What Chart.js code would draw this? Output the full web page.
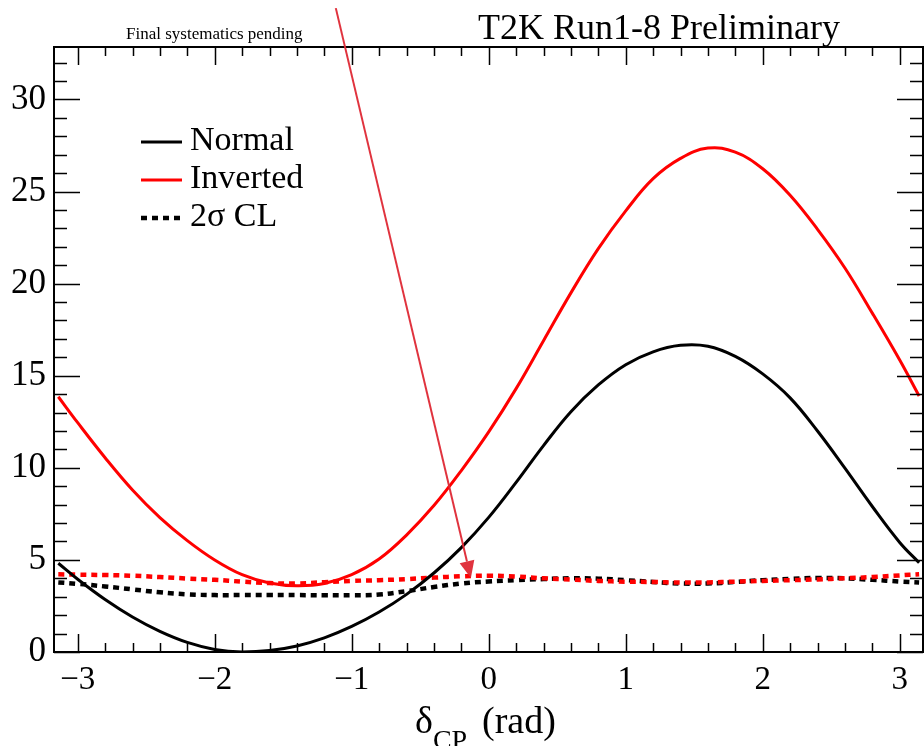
<!DOCTYPE html>
<html>
<head>
<meta charset="utf-8">
<script src="https://cdn.jsdelivr.net/npm/chart.js@4.4.1/dist/chart.umd.min.js"></script>
<style>
  html, body { margin: 0; padding: 0; background: #fff; }
  #wrap { width: 924px; height: 746px; }
</style>
</head>
<body>
<div id="wrap"><canvas id="chi2Chart" width="924" height="746"></canvas></div>
<script>
// delta_CP grid (rad)
const deltaCP = [-3.1416, -3.0, -2.8, -2.6, -2.4, -2.2, -2.0, -1.8, -1.6, -1.4, -1.2, -1.0, -0.8, -0.6, -0.4, -0.2,
                 0.0, 0.2, 0.4, 0.6, 0.8, 1.0, 1.2, 1.4, 1.6, 1.8, 2.0, 2.2, 2.4, 2.6, 2.8, 3.0, 3.1416];

// delta chi2, normal ordering
const normalChi2 = [4.82, 3.95, 2.85, 1.9, 1.12, 0.52, 0.14, 0.0, 0.08, 0.33, 0.77, 1.39, 2.17, 3.13, 4.29, 5.67,
                    7.31, 9.21, 11.21, 13.05, 14.5, 15.6, 16.3, 16.65, 16.6, 16.05, 15.1, 13.8, 12.0, 9.98, 7.9, 5.95, 4.85];

// delta chi2, inverted ordering
const invertedChi2 = [13.86, 12.45, 10.55, 8.8, 7.3, 6.05, 5.0, 4.2, 3.75, 3.6, 3.72, 4.2, 5.05, 6.35, 7.95, 9.85,
                      11.95, 14.3, 16.9, 19.5, 21.9, 23.95, 25.7, 26.8, 27.36, 27.14, 26.24, 24.8, 22.95, 20.85, 18.4, 15.85, 13.9];

// 2 sigma critical values
const normalCL = [3.78, 3.7, 3.56, 3.4, 3.24, 3.13, 3.09, 3.09, 3.09, 3.09, 3.08, 3.08, 3.12, 3.3, 3.53, 3.72,
                  3.83, 3.9, 3.96, 4.0, 3.98, 3.9, 3.8, 3.72, 3.72, 3.8, 3.9, 3.97, 4.02, 4.0, 3.92, 3.83, 3.78];
const invertedCL = [4.22, 4.2, 4.18, 4.14, 4.07, 3.99, 3.92, 3.82, 3.74, 3.72, 3.79, 3.86, 3.9, 3.96, 4.04, 4.11,
                    4.14, 4.1, 4.0, 3.93, 3.86, 3.82, 3.8, 3.77, 3.78, 3.82, 3.86, 3.9, 3.94, 4.0, 4.07, 4.16, 4.22];

const xTickValues = [-3, -2, -1, 0, 1, 2, 3];
const yTickValues = [0, 5, 10, 15, 20, 25, 30];

const serif = 'Liberation Serif';

function points(values) {
    return deltaCP.map(function (x, i) { return { x: x, y: values[i] }; });
}

// frame, inward ticks, texts, legend and arrow, ROOT style
const rootDecor = {
    id: 'rootDecor',
    afterDraw: function (chart) {
        const ctx = chart.ctx;
        const area = chart.chartArea;
        const xs = chart.scales.x;
        const ys = chart.scales.y;

        ctx.save();
        ctx.strokeStyle = '#000';

        // minor/major ticks
        ctx.lineWidth = 1.5;
        ctx.beginPath();
        for (let i = -16; i <= 16; i++) {
            const v = i / 5;
            if (v < xs.min || v > xs.max) continue;
            const px = Math.round(xs.getPixelForValue(v)) + 0.5;
            const len = i % 5 === 0 ? 18 : 9;
            ctx.moveTo(px, area.bottom);
            ctx.lineTo(px, area.bottom - len);
            ctx.moveTo(px, area.top);
            ctx.lineTo(px, area.top + len);
        }
        for (let j = 0; j <= 32; j++) {
            const py = Math.round(ys.getPixelForValue(j)) + 0.5;
            const len = j % 5 === 0 ? 26 : 13;
            ctx.moveTo(area.left, py);
            ctx.lineTo(area.left + len, py);
            ctx.moveTo(area.right, py);
            ctx.lineTo(area.right - len, py);
        }
        ctx.stroke();

        // frame
        ctx.lineWidth = 2;
        ctx.strokeRect(area.left, area.top, area.right - area.left, area.bottom - area.top);

        // header texts
        ctx.fillStyle = '#000';
        ctx.textBaseline = 'alphabetic';
        ctx.textAlign = 'left';
        ctx.font = '17px "' + serif + '"';
        ctx.fillText('Final systematics pending', 126, 39);
        ctx.font = '36px "' + serif + '"';
        ctx.fillText('T2K Run1-8 Preliminary', 478, 39);

        // x axis title: delta_CP (rad)
        let tx = 415;
        ctx.font = '38px "' + serif + '"';
        ctx.fillText('\u03B4', tx, 733);
        tx += ctx.measureText('\u03B4').width;
        ctx.font = '28px "' + serif + '"';
        ctx.fillText('CP', tx, 749);
        ctx.font = '38px "' + serif + '"';
        ctx.fillText('(rad)', 482, 733);

        // legend
        const legend = [
            { label: 'Normal', color: '#000', dash: [], width: 3, y: 142 },
            { label: 'Inverted', color: '#ff0000', dash: [], width: 3, y: 180 },
            { label: '2\u03C3 CL', color: '#000', dash: [6, 5], width: 4.5, y: 218 }
        ];
        legend.forEach(function (item) {
            ctx.beginPath();
            ctx.strokeStyle = item.color;
            ctx.lineWidth = item.width;
            ctx.setLineDash(item.dash);
            ctx.moveTo(141, item.y);
            ctx.lineTo(182, item.y);
            ctx.stroke();
            ctx.setLineDash([]);
            ctx.font = '34px "' + serif + '"';
            ctx.fillStyle = '#000';
            ctx.fillText(item.label, 190, item.y + 8);
        });

        // annotation arrow (data coordinates)
        const x0 = xs.getPixelForValue(-1.116), y0 = ys.getPixelForValue(34.96);
        const x1 = xs.getPixelForValue(-0.13), y1 = ys.getPixelForValue(4.02);
        const ang = Math.atan2(y1 - y0, x1 - x0);
        const headLen = 17, headHalf = 7.5;
        const bx = x1 - headLen * Math.cos(ang), by = y1 - headLen * Math.sin(ang);
        ctx.strokeStyle = 'rgba(222, 40, 52, 0.95)';
        ctx.fillStyle = 'rgba(222, 40, 52, 0.95)';
        ctx.lineWidth = 2;
        ctx.beginPath();
        ctx.moveTo(x0, y0);
        ctx.lineTo(bx, by);
        ctx.stroke();
        ctx.beginPath();
        ctx.moveTo(x1, y1);
        ctx.lineTo(bx + headHalf * Math.sin(ang), by - headHalf * Math.cos(ang));
        ctx.lineTo(bx - headHalf * Math.sin(ang), by + headHalf * Math.cos(ang));
        ctx.closePath();
        ctx.fill();

        ctx.restore();
    }
};

const ctx = document.getElementById('chi2Chart').getContext('2d');

new Chart(ctx, {
    type: 'line',
    data: {
        datasets: [
            {
                label: 'Inverted',
                data: points(invertedChi2),
                borderColor: '#ff0000',
                borderWidth: 3
            },
            {
                label: 'Normal',
                data: points(normalChi2),
                borderColor: '#000000',
                borderWidth: 3
            },
            {
                label: '2\u03C3 CL (inverted)',
                data: points(invertedCL),
                borderColor: '#ff0000',
                borderWidth: 4.5,
                borderDash: [6, 5]
            },
            {
                label: '2\u03C3 CL (normal)',
                data: points(normalCL),
                borderColor: '#000000',
                borderWidth: 4.5,
                borderDash: [6, 5]
            }
        ]
    },
    options: {
        responsive: false,
        animation: false,
        layout: { padding: { top: 47, right: 1, left: 0, bottom: 0 } },
        elements: {
            point: { radius: 0 },
            line: { tension: 0.4 }
        },
        plugins: {
            legend: { display: false },
            tooltip: { enabled: false }
        },
        scales: {
            x: {
                type: 'linear',
                min: -3.173,
                max: 3.17,
                grid: { display: false, drawTicks: false },
                border: { display: false },
                afterBuildTicks: function (scale) {
                    scale.ticks = xTickValues.map(function (v) { return { value: v }; });
                },
                afterFit: function (scale) { scale.height = 94; },
                ticks: {
                    color: '#000',
                    padding: 9,
                    maxRotation: 0,
                    autoSkip: false,
                    font: { family: serif, size: 33 },
                    callback: function (v) { return v < 0 ? '\u2212' + Math.abs(v) : String(v); }
                }
            },
            y: {
                min: 0,
                max: 32.85,
                grid: { display: false, drawTicks: false },
                border: { display: false },
                afterBuildTicks: function (scale) {
                    scale.ticks = yTickValues.map(function (v) { return { value: v }; });
                },
                afterFit: function (scale) { scale.width = 54; },
                ticks: {
                    color: '#000',
                    padding: 8,
                    autoSkip: false,
                    font: { family: serif, size: 35 }
                }
            }
        }
    },
    plugins: [rootDecor]
});
</script>
</body>
</html>
